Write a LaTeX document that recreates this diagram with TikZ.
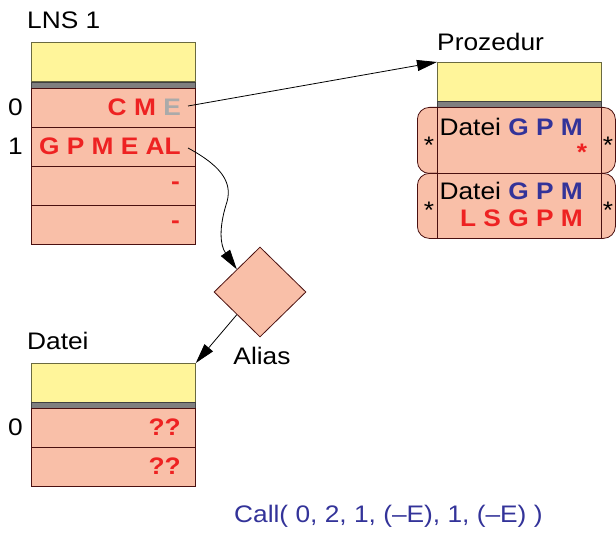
\documentclass[tikz,border=0pt]{standalone}
\usepackage{fontspec}
\setmainfont[FakeStretch=1.1]{Liberation Sans}
\usetikzlibrary{shapes.geometric,arrows.meta}
\definecolor{rowfill}{HTML}{F9BFA8}
\definecolor{rowline}{HTML}{4A1010}
\definecolor{headfill}{HTML}{FFF59A}
\definecolor{headline}{HTML}{6A6A40}
\definecolor{barfill}{HTML}{7F7F7F}
\definecolor{tred}{HTML}{EE2222}
\definecolor{tblue}{HTML}{333399}
\definecolor{tgray}{HTML}{AAAAAA}
\begin{document}
\begin{tikzpicture}[x=1bp,y=-1bp,
  font=\fontsize{24}{28}\selectfont,
  headbox/.style={draw=headline, fill=headfill, line width=0.8bp, minimum width=164bp, minimum height=39bp, inner sep=0, anchor=north west},
  barbox/.style={draw=black!75, fill=barfill, line width=0.5bp, minimum width=164bp, minimum height=6bp, inner sep=0, anchor=north west},
  rowbox/.style={draw=rowline, fill=rowfill, line width=0.8bp, minimum width=164bp, minimum height=39bp, inner sep=0, anchor=north west},
  tabbox/.style={draw=rowline, fill=rowfill, line width=0.8bp, minimum width=198bp, rounded corners=12bp, inner sep=0, anchor=north west},
  lbl/.style={inner sep=0, anchor=west},
  idx/.style={inner sep=0, anchor=east},
  rtx/.style={inner sep=0, anchor=east, text=tred, font=\fontsize{24}{28}\selectfont\bfseries},
  star/.style={inner sep=0, anchor=base},
  conn/.style={line width=0.8bp, -{Triangle[length=20bp,width=11bp]}}
]
\useasboundingbox (0,0) rectangle (616,538);

% ---------- LNS 1
\node[lbl] (lnsl) at (27,20) {LNS 1};
\node[headbox] (lnsh) at (31,42) {};
\node[barbox] (lnsb) at (31,82) {};
\node[rowbox] (lns0) at (31,88) {};
\node[rowbox] (lns1) at (31,127) {};
\node[rowbox] (lns2) at (31,166) {};
\node[rowbox] (lns3) at (31,205) {};
\node[idx] (i0) at (23,107) {0};
\node[idx] (i1) at (23,146) {1};
\node[rtx] (t0) at (181,107) {C M \textcolor{tgray}{E}};
\node[rtx] (t1) at (181,146) {G P M E AL};
\node[rtx] (t2) at (180,186) {-};
\node[rtx] (t3) at (180,225) {-};

% ---------- Prozedur
\node[lbl] (pl) at (437,42) {Prozedur};
\node[tabbox, minimum height=66bp] (pt1) at (417,107) {};
\node[tabbox, minimum height=65bp] (pt2) at (417,173) {};
\node[headbox] (ph) at (437,62) {};
\node[barbox] (pb) at (437,101) {};
\node[rowbox, minimum height=66bp] (pr1) at (437,107) {};
\node[rowbox, minimum height=65bp] (pr2) at (437,173) {};
\node[idx] (p1a) at (583,127) {Datei \textcolor{tblue}{\bfseries G P M}};
\node[star, text=tred, font=\fontsize{24}{28}\selectfont\bfseries] (p1s) at (582,161) {*};
\node[idx] (p2a) at (583,191) {Datei \textcolor{tblue}{\bfseries G P M}};
\node[rtx] (p2b) at (583,218) {L S G P M};
\node[star] (sl1) at (429,154) {*};
\node[star] (sr1) at (608,154) {*};
\node[star] (sl2) at (429,219) {*};
\node[star] (sr2) at (608,219) {*};

% ---------- Alias
\node[diamond, draw=rowline, fill=rowfill, line width=0.8bp, minimum width=92bp, minimum height=90bp, inner sep=0] (al) at (260,292) {};
\node[inner sep=0] (alt) at (262,356) {Alias};

% ---------- Datei
\node[lbl] (dl) at (27,341) {Datei};
\node[headbox] (dh) at (31,363) {};
\node[barbox] (db) at (31,402) {};
\node[rowbox] (d0) at (31,408) {};
\node[rowbox] (d1) at (31,447) {};
\node[idx] (di0) at (23,427) {0};
\node[rtx] (dt0) at (181,427) {??};
\node[rtx] (dt1) at (181,466) {??};

% ---------- call
\node[lbl, text=tblue] (call) at (234,516) {Call( 0, 2, 1, (--E), 1, (--E) )};

% ---------- connectors
\coordinate (s0) at (188,106);
\coordinate (s1) at (188,148);
\draw[conn] (s0) -- (ph.north west);
\draw[conn] (s1) .. controls (225,168) and (233,185) .. (226,205) .. controls (219,228) and (220,245) .. (al.north west);
\draw[conn] (al.south west) -- (dh.north east);
\end{tikzpicture}
\end{document}
